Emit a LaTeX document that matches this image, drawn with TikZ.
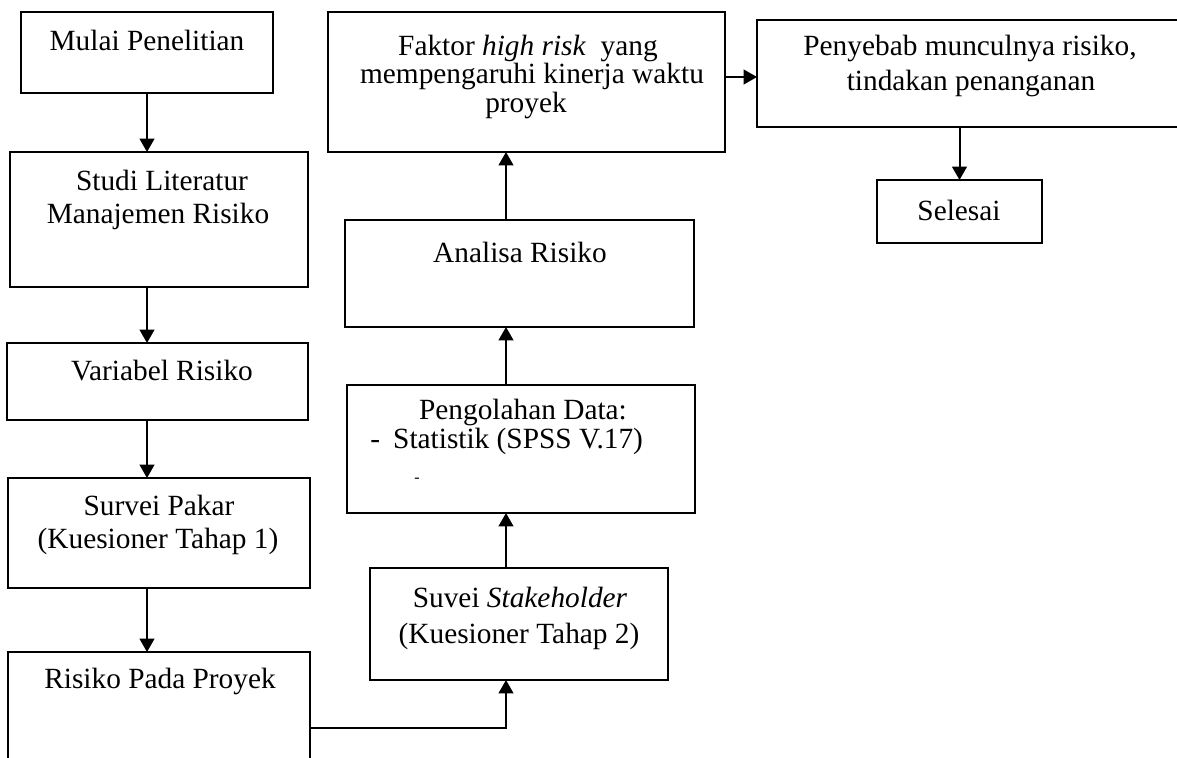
\documentclass[tikz,border=0pt]{standalone}
\usepackage{fontspec}
\setmainfont{Liberation Serif}
\usetikzlibrary{arrows.meta}

\begin{document}
\begin{tikzpicture}[x=0.75pt,y=-0.75pt,
  box/.style={draw=black, line width=1.7pt, inner sep=0pt, outer sep=0pt},
  wh/.style 2 args={minimum width=#1*0.75pt, minimum height=#2*0.75pt},
  lbl/.style={anchor=base, inner sep=0pt, font=\fontsize{22}{26}\selectfont},
  flow/.style={line width=1.5pt, -{Triangle[length=10pt,width=11pt]}},
]
\useasboundingbox (0,0) rectangle (1177,757);
\clip (0,0) rectangle (1177,757);

% process boxes
\node[box, wh={252}{81}]  (mulai)    at (147,52.5)  {};
\node[box, wh={298}{135}] (studi)    at (159,219.5) {};
\node[box, wh={301}{77}]  (variabel) at (157.5,381.5) {};
\node[box, wh={302}{110}] (survei)   at (159,533)   {};
\node[box, wh={302}{130}] (risiko)   at (159,717)   {};
\node[box, wh={397}{140}] (faktor)   at (526.5,82)  {};
\node[box, wh={440}{107}] (penyebab) at (977,73.5)  {};
\node[box, wh={165}{63}]  (selesai)  at (959.5,211.5) {};
\node[box, wh={349}{107}] (analisa)  at (519.5,273.5) {};
\node[box, wh={348}{128}] (olah)     at (521,449)   {};
\node[box, wh={298}{112}] (suvei)    at (519,624)   {};

% guide coordinates for the connector lines
\coordinate (lcol) at (147,0);
\coordinate (mcol) at (506,0);
\coordinate (rrow) at (0,77);
\coordinate (bend) at (506,728);

% connectors
\draw[flow] (mulai.south -| lcol) -- (studi.north -| lcol);
\draw[flow] (studi.south -| lcol) -- (variabel.north -| lcol);
\draw[flow] (variabel.south -| lcol) -- (survei.north -| lcol);
\draw[flow] (survei.south -| lcol) -- (risiko.north -| lcol);
\draw[flow] (risiko.east |- bend) -- (bend) -- (suvei.south -| bend);
\draw[flow] (suvei.north -| mcol) -- (olah.south -| mcol);
\draw[flow] (olah.north -| mcol) -- (analisa.south -| mcol);
\draw[flow] (analisa.north -| mcol) -- (faktor.south -| mcol);
\draw[flow] (faktor.east |- rrow) -- (penyebab.west |- rrow);
\draw[flow] (penyebab.south -| selesai.north) -- (selesai.north);

% labels
\node[lbl] (t-mulai)  at (147,50)  {Mulai Penelitian};
\node[lbl] (t-studi1) at (162,190) {Studi Literatur};
\node[lbl] (t-studi2) at (158,223) {Manajemen Risiko};
\node[lbl] (t-var)    at (162,380) {Variabel Risiko};
\node[lbl] (t-surv1)  at (159,515) {Survei Pakar};
\node[lbl] (t-surv2)  at (158,548) {(Kuesioner Tahap 1)};
\node[lbl] (t-risiko) at (160,688) {Risiko Pada Proyek};
\node[lbl] (t-fak1)   at (528,55)  {Faktor \textit{high risk}\ \ yang};
\node[lbl] (t-fak2)   at (532,83)  {mempengaruhi kinerja waktu};
\node[lbl] (t-fak3)   at (526,112) {proyek};
\node[lbl] (t-pen1)   at (970,55)  {Penyebab munculnya risiko,};
\node[lbl] (t-pen2)   at (971,90)  {tindakan penanganan};
\node[lbl] (t-sel)    at (959,220) {Selesai};
\node[lbl] (t-ana)    at (520,262) {Analisa Risiko};
\node[lbl] (t-olah1)  at (523,419) {Pengolahan Data:};
\node[lbl, anchor=base west] (t-olah2) at (370,448) {-\hspace{0.45em}Statistik (SPSS V.17)};
\node[lbl, anchor=base west, font=\fontsize{12}{14}\selectfont] (t-olah3) at (414,482) {-};
\node[lbl] (t-suv1)   at (520,607) {Suvei \textit{Stakeholder}};
\node[lbl] (t-suv2)   at (519,643) {(Kuesioner Tahap 2)};
\end{tikzpicture}
\end{document}
